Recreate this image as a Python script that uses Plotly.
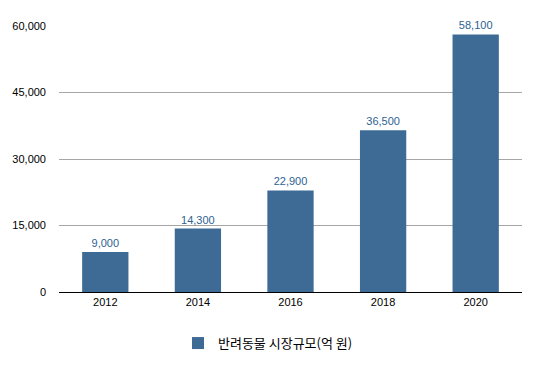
import plotly.graph_objects as go

years = ["2012", "2014", "2016", "2018", "2020"]
values = [9000, 14300, 22900, 36500, 58100]
series_name = "반려동물 시장규모(억 원)"
y_ticks = [0, 15000, 30000, 45000, 60000]

fig = go.Figure()
fig.add_trace(go.Bar(
    x=years, y=values, name=series_name,
    marker=dict(color="#3d6b96", line=dict(width=0)),
    width=0.5,
    text=[f"{v:,}" for v in values],
    textposition="outside",
    textfont=dict(color="#2e6291", size=11, family="Liberation Sans, Arial"),
    cliponaxis=False,
    showlegend=True,
))
fig.update_layout(
    width=541, height=365,
    margin=dict(l=59, r=19, t=26, b=73, autoexpand=False),
    plot_bgcolor="white", paper_bgcolor="white",
    font=dict(family="Liberation Sans, Arial", size=11, color="black"),
    bargap=0.5,
    xaxis=dict(type="category", showline=True, linecolor="black", linewidth=1,
               ticks="", showgrid=False, tickfont=dict(size=11), automargin=False),
    yaxis=dict(range=[0, 60000], tickvals=y_ticks,
               ticktext=[f"{v:,}" for v in y_ticks],
               showgrid=True, gridcolor="#a6a6a6", gridwidth=1,
               zeroline=False, showline=False, ticks="", ticklabelstandoff=12,
               tickfont=dict(size=11), automargin=False),
    showlegend=True,
    legend=dict(orientation="h", xref="container", yref="container",
                x=0.329, xanchor="left", y=0.06, yanchor="middle",
                font=dict(family="Noto Sans CJK KR", size=13, color="black")),
)
fig.write_html("out.html", config={"displayModeBar": False},
               post_script="document.body.style.margin='0';document.body.style.overflow='hidden';")
